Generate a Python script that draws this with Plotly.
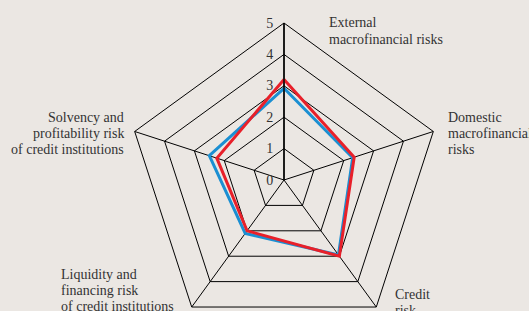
import plotly.graph_objects as go

categories = ["External macrofinancial risks", "Domestic macrofinancial risks", "Credit risk",
              "Liquidity and financing risk of credit institutions",
              "Solvency and profitability risk of credit institutions"]
blue_values = [2.92, 2.3, 2.95, 2.1, 2.5]
red_values = [3.2, 2.35, 3.0, 2.0, 2.25]
radial_ticks = [0, 1, 2, 3, 4, 5]

BG = "#ebe7e3"
W, H = 529, 340
cx, cy, R = 284, 180, 157

fig = go.Figure()
for vals, color in [(blue_values, "#1b8fd2"), (red_values, "#e8202a")]:
    fig.add_trace(go.Scatterpolar(
        r=vals + [vals[0]], theta=categories + [categories[0]],
        mode="lines", line=dict(color=color, width=3), showlegend=False,
        hoverinfo="skip"))

fig.update_layout(
    width=W, height=H, margin=dict(l=0, r=0, t=0, b=0),
    paper_bgcolor=BG, plot_bgcolor=BG,
    polar=dict(
        bgcolor=BG,
        gridshape="linear",
        domain=dict(x=[(cx - R) / W, (cx + R) / W], y=[(H - cy - R) / H, (H - cy + R) / H]),
        radialaxis=dict(range=[0, 5], tickvals=radial_ticks, angle=90, tickangle=90,
                        side="counterclockwise",
                        showline=True, linecolor="black", linewidth=1.5,
                        gridcolor="black", gridwidth=1,
                        ticks="outside", ticklen=5, tickcolor="rgba(0,0,0,0)",
                        tickfont=dict(family="Liberation Serif", size=14, color="#333")),
        angularaxis=dict(rotation=90, direction="clockwise", showticklabels=False,
                         ticks="", linecolor="black", linewidth=1,
                         gridcolor="black", gridwidth=1),
    ),
)

font = dict(family="Liberation Serif", size=14, color="#333")
labels = [
    (["External", "macrofinancial risks"], 327, 23, "left"),
    (["Domestic", "macrofinancial", "risks"], 446, 117, "left"),
    (["Solvency and", "profitability risk", "of credit institutions"], 126, 117, "right"),
    (["Liquidity and", "financing risk", "of credit institutions"], 59, 274, "left"),
    (["Credit", "risk"], 393, 294, "left"),
]
LS = 16.3
for lines, x, y0, al in labels:
    for i, txt in enumerate(lines):
        fig.add_annotation(text=txt, x=x / W, y=1 - (y0 + i * LS) / H, xref="paper", yref="paper",
                           xanchor=al, yanchor="middle", align=al, showarrow=False, font=font)

fig.write_html("out.html", config={"displayModeBar": False},
               post_script="document.body.style.overflow='hidden';document.body.style.margin='0';")
